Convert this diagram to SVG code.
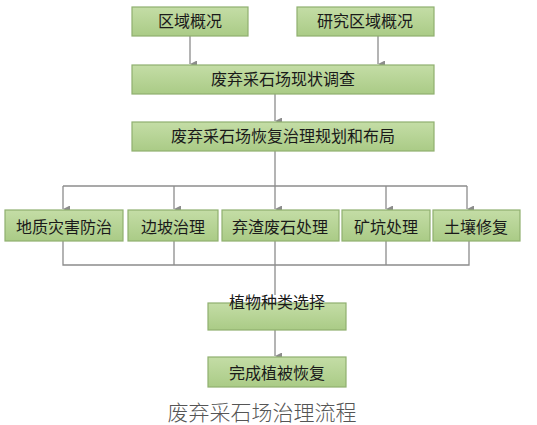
<svg xmlns="http://www.w3.org/2000/svg" width="537" height="425" viewBox="0 0 537 425">
<style>
.box{fill:url(#g);stroke:#8fb06f;stroke-width:1.2}
.t{font-family:"Noto Sans CJK SC","Noto Sans",sans-serif;font-size:16px;fill:#1a1a1a;text-anchor:middle}
.c{fill:none;stroke:#8c8c8c;stroke-width:1.3}
.cap{font-family:"Noto Sans CJK SC",sans-serif;font-size:21px;fill:#555;text-anchor:middle;font-weight:300}
</style>
<defs>
<linearGradient id="g" x1="0" y1="0" x2="0" y2="1">
<stop offset="0" stop-color="#c4dda6"/>
<stop offset="1" stop-color="#aacb86"/>
</linearGradient>
<marker id="a" viewBox="0 0 8 8" refX="4" refY="8" markerWidth="7" markerHeight="7" orient="auto-start-reverse" markerUnits="userSpaceOnUse">
<path d="M0,0 L8,0 L4,8 Z" fill="#8c8c8c"/>
</marker>
</defs>
<rect width="537" height="425" fill="#fff"/>
<g id="connectors">
<path class="c" d="M190,36 V64" marker-end="url(#a)"/>
<path class="c" d="M378,36 V64" marker-end="url(#a)"/>
<path class="c" d="M275,94 V121" marker-end="url(#a)"/>
<path class="c" d="M275,151 V209" marker-end="url(#a)"/>
<path class="c" d="M63,186 H467"/>
<path class="c" d="M63,186 V209" marker-end="url(#a)"/>
<path class="c" d="M174,186 V209" marker-end="url(#a)"/>
<path class="c" d="M386,186 V209" marker-end="url(#a)"/>
<path class="c" d="M467,186 V209" marker-end="url(#a)"/>
<path class="c" d="M63,241 V265 H469 V241"/>
<path class="c" d="M174,241 V265"/>
<path class="c" d="M386,241 V265"/>
<path class="c" d="M275,241 V295"/>
<path class="c" d="M275,330 V356" marker-end="url(#a)"/>
</g>
<g id="n1"><rect class="box" x="132" y="7" width="116" height="29"/><text class="t" x="190" y="27">区域概况</text></g>
<g id="n2"><rect class="box" x="297" y="7" width="137" height="29"/><text class="t" x="365" y="27">研究区域概况</text></g>
<g id="n3"><rect class="box" x="132" y="65" width="302" height="29"/><text class="t" x="283" y="85">废弃采石场现状调查</text></g>
<g id="n4"><rect class="box" x="132" y="122" width="302" height="29"/><text class="t" x="283" y="142">废弃采石场恢复治理规划和布局</text></g>
<g id="n5"><rect class="box" x="5" y="210" width="118" height="31"/><text class="t" x="64" y="233">地质灾害防治</text></g>
<g id="n6"><rect class="box" x="128" y="210" width="90" height="31"/><text class="t" x="173" y="233">边坡治理</text></g>
<g id="n7"><rect class="box" x="222" y="210" width="117" height="31"/><text class="t" x="280" y="233">弃渣废石处理</text></g>
<g id="n8"><rect class="box" x="342" y="210" width="88" height="31"/><text class="t" x="386" y="233">矿坑处理</text></g>
<g id="n9"><rect class="box" x="433" y="210" width="87" height="31"/><text class="t" x="476" y="233">土壤修复</text></g>
<g id="n10"><rect class="box" x="208" y="303" width="138" height="27"/><text class="t" x="277" y="308">植物种类选择</text></g>
<g id="n11"><rect class="box" x="208" y="357" width="138" height="30"/><text class="t" x="277" y="379">完成植被恢复</text></g>
<text class="cap" x="262" y="420">废弃采石场治理流程</text>
</svg>
